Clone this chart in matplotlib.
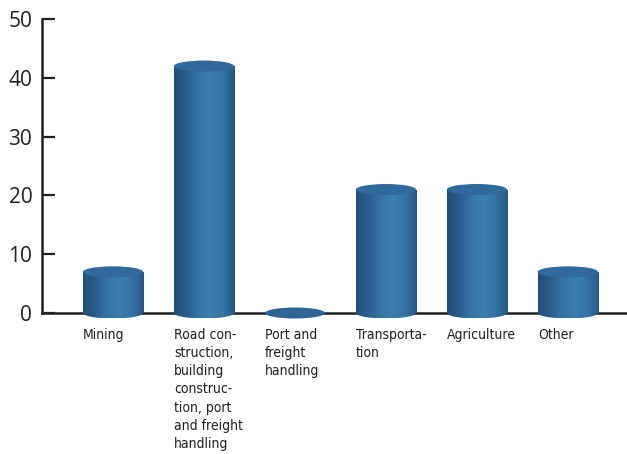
import matplotlib
matplotlib.use("Agg")
import matplotlib.pyplot as plt
import numpy as np
from matplotlib.patches import Ellipse, Rectangle
from matplotlib.colors import LinearSegmentedColormap
from matplotlib import font_manager

categories = [
    "Mining",
    "Road con-\nstruction,\nbuilding\nconstruc-\ntion, port\nand freight\nhandling",
    "Port and\nfreight\nhandling",
    "Transporta-\ntion",
    "Agriculture",
    "Other",
]
values = [7, 42, 0, 21, 21, 7]
yticks = [0, 10, 20, 30, 40, 50]

ink = "#231f20"
fonts = font_manager.fontManager.ttflist
condensed = [f.name for f in fonts
             if "condensed" in str(f.stretch).lower() or "narrow" in f.name.lower()
             or "condensed" in f.name.lower()]
label_family = (condensed[:1] or ["Roboto"]) + ["DejaVu Sans"]
label_stretch = "condensed" if condensed else "normal"
tick_family = ["Open Sans", "DejaVu Sans"]

fig = plt.figure(figsize=(6.27, 4.54), dpi=100)
bottom_px, top_px = 313, 19
ymin, ymax = -3.0, 50.0
px_per_unit = (bottom_px - top_px) / 50.0
ax_bottom = (454 - bottom_px - (-ymin) * px_per_unit) / 454
ax_top = (454 - top_px) / 454
ax = fig.add_axes([42 / 627, ax_bottom, 1 - 42 / 627, ax_top - ax_bottom])

x = np.arange(len(values))
ax.set_xlim(-0.78, len(values) - 1 + 0.65)
ax.set_ylim(ymin, ymax)

bar_w = 0.66
ell_h = 11.0 / px_per_unit

shade = LinearSegmentedColormap.from_list(
    "cyl", ["#224e78", "#2a5d8a", "#3574a4", "#3b7eb0", "#3473a4", "#285884"])
grad = np.linspace(0, 1, 256)[None, :]

for xi, v in zip(x, values):
    left = xi - bar_w / 2
    if v > 0:
        body = Rectangle((left, 0), bar_w, v, transform=ax.transData)
        im = ax.imshow(grad, cmap=shade, aspect="auto", interpolation="bilinear",
                       extent=(left, left + bar_w, -ell_h / 2, v), zorder=3)
        im.set_clip_path(body)
        base = Ellipse((xi, 0), bar_w, ell_h, transform=ax.transData)
        im2 = ax.imshow(grad, cmap=shade, aspect="auto", interpolation="bilinear",
                        extent=(left, left + bar_w, -ell_h / 2, v), zorder=3)
        im2.set_clip_path(base)
        ax.add_patch(Ellipse((xi, v), bar_w, ell_h, facecolor="#30699a",
                             edgecolor="none", zorder=4))
    else:
        ax.add_patch(Ellipse((xi, v), bar_w, ell_h, facecolor="#2e6594",
                             edgecolor="none", zorder=4))

for xi, lab in zip(x, categories):
    ax.annotate(lab, xy=(xi - bar_w / 2, 0), xycoords="data",
                xytext=(0, -11), textcoords="offset points",
                ha="left", va="top", fontsize=10, color=ink,
                family=label_family, fontstretch=label_stretch,
                linespacing=1.37, annotation_clip=False)

for s in ["top", "right"]:
    ax.spines[s].set_visible(False)
ax.spines["bottom"].set_position(("data", 0))
ax.spines["left"].set_bounds(0, 50)
for s in ["bottom", "left"]:
    ax.spines[s].set_linewidth(1.8)
    ax.spines[s].set_color(ink)
    ax.spines[s].set_zorder(2)

ax.set_xticks([])
ax.set_yticks(yticks)
ax.set_yticklabels([str(t) for t in yticks], family=tick_family, fontsize=15, color=ink)
ax.tick_params(axis="y", direction="in", length=9.5, width=1.6, color=ink, pad=7)
ax.patch.set_alpha(0)

fig.savefig("out.png", dpi=100)
